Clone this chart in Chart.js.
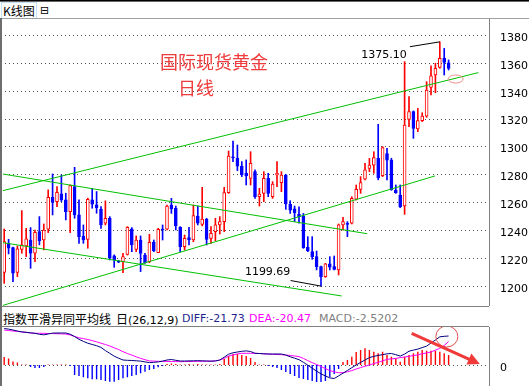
<!DOCTYPE html>
<html lang="zh">
<head>
<meta charset="UTF-8">
<title>国际现货黄金 日线</title>
<script src="https://cdn.jsdelivr.net/npm/chart.js"></script>
<style>
  body { margin: 0; background: #fff; }
  #wrap { position: relative; width: 529px; height: 386px; overflow: hidden; background: #fff;
          font-family: "DejaVu Sans", "Noto Sans CJK SC", sans-serif; }
  .abs { position: absolute; }
  .cjk { font-family: "Noto Sans CJK SC", sans-serif; }
  #kline { position: absolute; left: 0; top: 19px; }
  #macd { position: absolute; left: 0; top: 327px; }
</style>
</head>
<body>
<div id="wrap">
  <div class="abs" style="left:0;top:0;width:529px;height:1px;background:#000"></div>
  <div class="abs" style="left:0;top:1px;width:529px;height:1px;background:#666"></div>
  <div class="abs cjk" style="left:2px;top:3px;height:15px;line-height:15px;font-size:12px;color:#000;padding:0 1px;outline:1px solid #c4e2f7">K线图</div>
  <div class="abs" style="left:40px;top:3px;line-height:15px;font-size:11px;color:#000">⊟</div>
  <div class="abs" style="left:0;top:18px;width:529px;height:1px;background:#a0a0a0"></div>
  <div class="abs" style="left:0;top:18px;width:2px;height:368px;background:#6e6e6e"></div>
  <div class="abs" style="left:2px;top:306px;width:487px;height:1px;background:#808080"></div>
  <div class="abs" style="left:2px;top:326px;width:487px;height:1px;background:#808080"></div>
  <div class="abs cjk" style="left:3px;top:311px;line-height:16px;font-size:12px;color:#000">指数平滑异同平均线</div>
  <div class="abs" style="left:116px;top:311px;line-height:16px;font-size:11px;color:#000"><span class="cjk" style="font-size:12px">日</span>(26,12,9)</div>
  <div class="abs" style="left:182px;top:311px;line-height:16px;font-size:11px;color:#1f1f8f">DIFF:-21.73</div>
  <div class="abs" style="left:249px;top:311px;line-height:16px;font-size:11px;color:#ff00ff">DEA:-20.47</div>
  <div class="abs" style="left:319px;top:311px;line-height:16px;font-size:11px;color:#808080">MACD:-2.5202</div>
  <canvas id="kline" width="529" height="287"></canvas>
  <canvas id="macd" width="529" height="59"></canvas>
</div>

<script>
// daily candles, oldest first
const opens = [1209.6, 1230.4, 1227.3, 1209.6, 1226.1, 1228.5, 1232.8, 1223.3, 1238.8, 1232.8,
  1240.5, 1263.7, 1260.4, 1265.9, 1261.6, 1253.2, 1271.1, 1250.8, 1235.7, 1233.3,
  1261.6, 1258.0, 1254.9, 1244.8, 1248.4, 1221.4, 1217.6, 1217.3, 1222.5, 1240.9,
  1226.1, 1232.8, 1222.0, 1217.2, 1231.1, 1223.7, 1240.7, 1240.5, 1257.9, 1255.5,
  1241.9, 1228.0, 1234.5, 1232.8, 1250.0, 1244.0, 1247.6, 1234.0, 1238.8, 1243.6,
  1246.0, 1266.8, 1292.6, 1291.5, 1285.9, 1280.7, 1277.1, 1281.9, 1263.9, 1266.3,
  1277.1, 1263.9, 1279.5, 1274.0, 1279.5, 1258.4, 1255.1, 1251.2, 1250.0, 1227.5,
  1224.4, 1220.8, 1213.7, 1206.5, 1215.6, 1213.7, 1211.3, 1243.6, 1244.8, 1244.8,
  1262.2, 1269.2, 1276.4, 1284.2, 1286.6, 1291.4, 1279.0, 1294.8, 1290.2, 1268.7,
  1265.1, 1257.2, 1319.4, 1325.0, 1312.5, 1318.5, 1321.8, 1342.4, 1351.3, 1356.8,
  1363.3, 1360.1];
const highs = [1240.7, 1233.3, 1227.8, 1228.5, 1253.9, 1241.2, 1241.7, 1240.0, 1249.6, 1244.3,
  1268.8, 1280.2, 1271.1, 1279.5, 1266.4, 1272.3, 1285.0, 1261.6, 1243.6, 1262.8,
  1269.9, 1267.6, 1256.8, 1260.9, 1249.6, 1222.1, 1218.2, 1223.3, 1242.4, 1241.7,
  1235.7, 1235.7, 1223.2, 1236.9, 1232.8, 1241.2, 1243.6, 1257.9, 1262.7, 1257.2,
  1242.4, 1236.4, 1241.9, 1257.9, 1257.2, 1270.6, 1248.4, 1242.4, 1248.4, 1249.6,
  1270.6, 1296.7, 1303.9, 1301.0, 1289.1, 1290.3, 1296.2, 1283.1, 1269.9, 1281.9,
  1280.7, 1274.7, 1289.1, 1281.9, 1280.0, 1261.0, 1257.2, 1256.7, 1251.9, 1235.2,
  1235.2, 1224.9, 1214.1, 1216.0, 1220.8, 1221.3, 1244.3, 1249.1, 1246.0, 1263.9,
  1272.3, 1278.3, 1287.9, 1291.4, 1296.2, 1315.9, 1299.8, 1298.6, 1291.5, 1272.3,
  1272.3, 1360.9, 1335.7, 1325.5, 1327.3, 1324.2, 1346.5, 1357.8, 1359.7, 1375.1,
  1370.4, 1362.1];
const lows = [1201.7, 1222.8, 1202.9, 1206.5, 1223.3, 1220.9, 1212.5, 1217.3, 1229.3, 1225.7,
  1238.1, 1250.8, 1256.8, 1260.4, 1247.2, 1238.1, 1248.4, 1230.4, 1230.4, 1226.9,
  1255.6, 1252.0, 1241.2, 1243.6, 1218.5, 1213.2, 1216.5, 1209.4, 1222.0, 1224.4,
  1224.4, 1210.1, 1216.0, 1216.5, 1224.4, 1223.7, 1232.8, 1240.0, 1251.9, 1240.0,
  1224.4, 1225.6, 1229.2, 1231.6, 1243.6, 1242.9, 1229.2, 1230.4, 1232.3, 1237.1,
  1238.8, 1266.3, 1289.1, 1282.6, 1278.3, 1272.3, 1272.3, 1262.7, 1257.2, 1260.3,
  1263.9, 1262.7, 1271.1, 1267.5, 1254.8, 1251.9, 1246.0, 1244.8, 1226.8, 1224.4,
  1218.9, 1211.3, 1199.69, 1206.0, 1211.3, 1211.3, 1207.7, 1240.0, 1235.2, 1244.3,
  1261.5, 1266.3, 1275.9, 1281.9, 1280.7, 1276.0, 1278.3, 1276.0, 1268.5, 1266.3,
  1256.0, 1251.2, 1314.2, 1305.8, 1310.6, 1317.8, 1320.9, 1336.9, 1338.6, 1356.1,
  1351.3, 1354.9];
const closes = [1231.6, 1226.9, 1208.9, 1226.4, 1229.3, 1233.6, 1223.3, 1238.3, 1232.4, 1240.0,
  1263.5, 1259.7, 1267.1, 1261.6, 1253.2, 1271.9, 1250.8, 1235.2, 1232.8, 1262.0,
  1258.5, 1256.1, 1243.6, 1248.4, 1219.7, 1218.5, 1216.8, 1220.9, 1241.9, 1229.2,
  1232.8, 1223.2, 1216.5, 1231.1, 1225.1, 1240.5, 1240.0, 1257.2, 1255.1, 1242.9,
  1228.0, 1234.0, 1232.8, 1250.3, 1244.8, 1247.9, 1233.3, 1237.6, 1243.6, 1246.0,
  1266.8, 1293.1, 1291.9, 1285.9, 1279.5, 1278.8, 1287.9, 1263.9, 1265.8, 1277.1,
  1266.3, 1273.0, 1280.7, 1279.5, 1258.7, 1254.3, 1252.4, 1249.6, 1227.3, 1225.1,
  1220.8, 1213.7, 1206.5, 1215.6, 1213.2, 1211.7, 1243.6, 1246.0, 1244.0, 1262.7,
  1269.2, 1274.0, 1283.1, 1286.6, 1291.9, 1277.5, 1299.1, 1290.2, 1268.7, 1266.8,
  1256.7, 1315.4, 1325.0, 1313.0, 1318.5, 1321.8, 1340.5, 1350.6, 1356.1, 1363.3,
  1360.4, 1356.1];
const priceTicks = [1200, 1220, 1240, 1260, 1280, 1300, 1320, 1340, 1360, 1380];

// hand drawn trend lines: [bar index, price] at each end
const channelUpTop = [[-0.34, 1268.2], [107.75, 1353.0]];
const channelUpBottom = [[-0.34, 1185.8], [97.9, 1278.8]];
const channelDownTop = [[-0.34, 1280.2], [82.5, 1237.3]];
const channelDownBottom = [[-0.34, 1230.9], [76.7, 1192.6]];

// MACD pane (same bars)
const diffLine = [36.5, 35.9, 35.0, 34.0, 33.1, 32.7, 32.2, 31.7, 30.7, 30.2,
  31.0, 31.9, 32.0, 32.0, 32.0, 30.8, 28.5, 25.7, 23.6, 21.8,
  20.5, 19.3, 17.6, 14.4, 11.7, 8.8, 6.8, 5.0, 4.7, 4.5,
  4.2, 3.9, 3.1, 2.4, 2.7, 3.1, 3.9, 5.0, 5.5, 4.7,
  4.0, 4.0, 4.1, 4.2, 4.3, 4.2, 4.0, 3.8, 4.1, 5.0,
  7.8, 10.8, 12.2, 13.0, 13.7, 14.1, 13.5, 11.7, 11.5, 11.2,
  11.0, 11.0, 11.0, 11.0, 9.9, 8.2, 6.8, 5.3, 2.7, -0.2,
  -3.2, -6.1, -8.9, -10.9, -12.9, -13.5, -10.9, -8.2, -5.5, -2.7,
  0.0, 2.6, 5.0, 7.4, 8.6, 9.6, 10.3, 11.2, 11.5, 10.3,
  8.9, 10.9, 13.8, 14.9, 15.9, 17.4, 18.9, 22.0, 25.0, 28.2,
  28.7, 29.0];
const deaLine = [34.9, 34.5, 34.0, 33.6, 33.1, 32.6, 32.0, 31.7, 31.7, 31.7,
  31.5, 31.4, 31.3, 31.1, 31.0, 30.0, 28.5, 27.2, 26.4, 25.5,
  24.4, 23.2, 21.8, 20.5, 19.0, 17.2, 15.5, 13.3, 11.5, 9.9,
  8.2, 6.6, 5.3, 4.1, 3.9, 3.7, 3.6, 3.6, 3.5, 3.4,
  3.3, 3.4, 3.5, 3.6, 3.7, 3.7, 3.8, 3.9, 4.0, 5.0,
  6.6, 8.9, 10.0, 11.1, 11.7, 11.7, 11.7, 11.7, 11.5, 11.2,
  11.0, 10.7, 10.5, 10.3, 10.0, 9.5, 9.0, 8.4, 6.6, 4.4,
  2.4, 0.5, -1.5, -3.6, -5.6, -6.8, -7.7, -7.7, -6.8, -5.6,
  -4.0, -2.6, -1.2, 0.0, 1.4, 2.7, 4.1, 5.7, 6.1, 6.6,
  7.4, 7.9, 8.7, 9.4, 10.1, 11.3, 12.0, 13.0, 14.9, 16.6,
  19.5, 23.5];
const macdHist = [8, 6.5, 3.5, 2.5, 0.5, 0.5, -2, -3, -3, -2,
  0.5, 0.5, 0.5, 0.5, 0.5, -1, -10, -11, -12.3, -13.3,
  -14.3, -14.3, -15, -16, -16.7, -16.7, -15, -13.3, -12.3, -11,
  -10, -8.3, -6.7, -5, -4, -2.3, -1, 1, 1.5, 1,
  0.5, 0.5, 1, 0.5, 1, 0.5, 0.5, 0.5, 0.5, 1,
  6, 9, 11, 11, 10, 9, 7, 3, 0.5, 0.5,
  -1, -2, -3, -5, -7, -9, -11, -13, -14, -15,
  -16, -17, -17, -16, -12, -9, -4, 3, 5, 8.3,
  13, 15, 16.7, 15, 13.3, 11.7, 13.3, 10, 8.3, 6.7,
  3.3, 8.3, 10, 11.7, 13.3, 15, 14.3, 14.3, 14.3, 13.3,
  11.7, 10];

const RED = '#ff0000';
const BLUE = '#0000ff';
const GREEN = '#00c000';
const GRID = '#808080';

const idx = opens.map((_, i) => i);
const rising = idx.map(i => closes[i] >= opens[i]);
const candleColor = idx.map(i => rising[i] ? RED : BLUE);

function trend(points) {
  return {
    type: 'line',
    data: points.map(p => ({ x: p[0], y: p[1] })),
    borderColor: GREEN,
    borderWidth: 1,
    pointRadius: 0,
    order: 0
  };
}

function rightAxis(scale) {
  scale.width = 40;
  scale.paddingTop = 0;
  scale.paddingBottom = 0;
}

const xRange = { type: 'linear', display: false, offset: false, min: -0.27, max: 110.18 };
const tickStyle = { color: '#000', font: { family: 'DejaVu Sans', size: 11 }, padding: 3, labelOffset: 3, callback: v => String(v) };

// dotted horizontal grid at each y tick
const dottedGrid = {
  id: 'dottedGrid',
  beforeDatasetsDraw(chart) {
    const { ctx, chartArea, scales: { y } } = chart;
    ctx.save();
    ctx.fillStyle = '#4e4e4e';
    y.ticks.forEach(t => {
      const py = Math.round(y.getPixelForValue(t.value));
      for (let px = Math.ceil(chartArea.left) + 2; px < chartArea.right - 1; px += 4) {
        ctx.fillRect(px, py, 1, 1);
      }
    });
    ctx.restore();
  }
};

const annotate = {
  id: 'annotate',
  afterDatasetsDraw(chart) {
    const { ctx, scales: { x, y } } = chart;
    ctx.save();
    ctx.textBaseline = 'middle';
    ctx.fillStyle = '#ee3b3b';
    ctx.font = '18px "Noto Sans CJK SC"';
    ctx.fillText('国际现货黄金', x.getPixelForValue(35.4), y.getPixelForValue(1360.6));
    ctx.fillText('日线', x.getPixelForValue(39.5), y.getPixelForValue(1342.0));

    ctx.fillStyle = '#000';
    ctx.font = '11px "DejaVu Sans"';
    ctx.textAlign = 'right';
    ctx.fillText('1375.10', x.getPixelForValue(91.5), y.getPixelForValue(1365.8));
    ctx.textAlign = 'left';
    ctx.fillText('1199.69', x.getPixelForValue(54.7), y.getPixelForValue(1209.8));

    ctx.strokeStyle = '#000';
    ctx.lineWidth = 1;
    ctx.beginPath();
    ctx.moveTo(x.getPixelForValue(92.2), y.getPixelForValue(1371.6));
    ctx.lineTo(x.getPixelForValue(99), y.getPixelForValue(highs[99]));
    ctx.moveTo(x.getPixelForValue(65.1), y.getPixelForValue(1203.7));
    ctx.lineTo(x.getPixelForValue(72), y.getPixelForValue(lows[72]));
    ctx.stroke();

    ctx.strokeStyle = '#f08c8c';
    ctx.beginPath();
    ctx.ellipse(x.getPixelForValue(102.6), y.getPixelForValue(1348.4), 7.5, 4, 0, 0, Math.PI * 2);
    ctx.stroke();
    ctx.restore();
  }
};

new Chart(document.getElementById('kline'), {
  type: 'bar',
  data: {
    datasets: [
      trend(channelUpTop), trend(channelUpBottom), trend(channelDownTop), trend(channelDownBottom),
      {
        data: idx.map(i => ({ x: i, y: [Math.min(opens[i], closes[i]), Math.max(opens[i], closes[i])] })),
        grouped: false,
        barThickness: 3,
        backgroundColor: idx.map(i => rising[i] ? '#ffffff' : BLUE),
        borderColor: candleColor,
        borderWidth: 1,
        borderSkipped: false,
        order: 1
      },
      {
        data: idx.map(i => ({ x: i, y: [lows[i], highs[i]] })),
        grouped: false,
        barThickness: 1,
        backgroundColor: candleColor,
        borderWidth: 0,
        order: 2
      }
    ]
  },
  options: {
    responsive: false,
    animation: false,
    events: [],
    layout: { padding: { left: 3, right: 0, top: 0, bottom: 0 } },
    plugins: { legend: { display: false }, tooltip: { enabled: false } },
    scales: {
      x: xRange,
      y: {
        position: 'right',
        min: 1185.4,
        max: 1391.5,
        afterBuildTicks: s => { s.ticks = priceTicks.map(v => ({ value: v })); },
        afterFit: rightAxis,
        ticks: tickStyle,
        grid: { display: false },
        border: { display: true, color: GRID }
      }
    }
  },
  plugins: [dottedGrid, annotate]
});

const macdMarks = {
  id: 'macdMarks',
  afterDatasetsDraw(chart) {
    const { ctx, scales: { x, y } } = chart;
    ctx.save();
    ctx.strokeStyle = '#e05050';
    ctx.lineWidth = 1;
    ctx.beginPath();
    ctx.ellipse(x.getPixelForValue(100.6), y.getPixelForValue(28.5), 11, 10.5, 0, 0, Math.PI * 2);
    ctx.stroke();

    const x0 = x.getPixelForValue(92.6), y0 = y.getPixelForValue(31.7);
    const x1 = x.getPixelForValue(108.1), y1 = y.getPixelForValue(1.0);
    const a = Math.atan2(y1 - y0, x1 - x0);
    const head = 12;
    ctx.strokeStyle = '#f03a3a';
    ctx.fillStyle = '#f03a3a';
    ctx.lineWidth = 3;
    ctx.beginPath();
    ctx.moveTo(x0, y0);
    ctx.lineTo(x1 - head * 0.8 * Math.cos(a), y1 - head * 0.8 * Math.sin(a));
    ctx.stroke();
    ctx.beginPath();
    ctx.moveTo(x1, y1);
    ctx.lineTo(x1 - head * Math.cos(a) + 6 * Math.sin(a), y1 - head * Math.sin(a) - 6 * Math.cos(a));
    ctx.lineTo(x1 - head * Math.cos(a) - 6 * Math.sin(a), y1 - head * Math.sin(a) + 6 * Math.cos(a));
    ctx.closePath();
    ctx.fill();
    ctx.restore();
  }
};

new Chart(document.getElementById('macd'), {
  type: 'bar',
  data: {
    datasets: [
      { type: 'line', data: idx.map(i => ({ x: i, y: diffLine[i] })), borderColor: '#000080', borderWidth: 1, pointRadius: 0, order: 0 },
      { type: 'line', data: idx.map(i => ({ x: i, y: deaLine[i] })), borderColor: '#ff00ff', borderWidth: 1, pointRadius: 0, order: 1 },
      {
        data: idx.map(i => ({ x: i, y: macdHist[i] })),
        grouped: false,
        barThickness: 1.4,
        inflateAmount: 0,
        backgroundColor: macdHist.map(v => v >= 0 ? RED : BLUE),
        borderWidth: 0,
        order: 2
      }
    ]
  },
  options: {
    responsive: false,
    animation: false,
    events: [],
    layout: { padding: { left: 3, right: 0, top: 0, bottom: 1 } },
    plugins: { legend: { display: false }, tooltip: { enabled: false } },
    scales: {
      x: xRange,
      y: {
        position: 'right',
        min: -20,
        max: 38,
        afterBuildTicks: s => { s.ticks = [{ value: 0 }]; },
        afterFit: rightAxis,
        ticks: tickStyle,
        grid: { display: false },
        border: { display: true, color: GRID }
      }
    }
  },
  plugins: [dottedGrid, macdMarks]
});
</script>
</body>
</html>
